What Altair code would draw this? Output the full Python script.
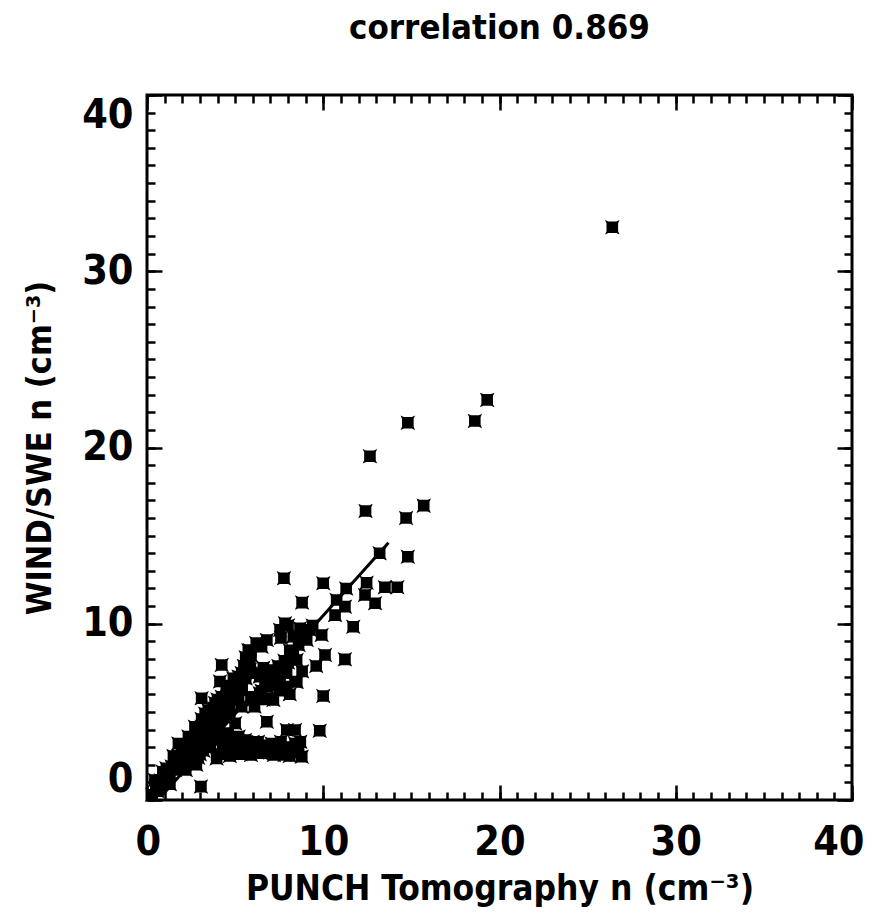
import altair as alt
import pandas as pd

# ---- data ----
punch_n = [
    26.4, 19.3, 14.8, 18.6, 12.65, 12.4, 15.7, 14.7, 14.8, 13.2,
    7.77, 10.0, 8.8, 11.3, 12.46, 13.5, 14.2, 12.37, 12.94, 10.76,
    11.23, 10.67, 11.7, 9.91, 9.25, 8.68, 7.83, 7.55, 6.8, 6.5,
    8.3, 9.06, 10.1, 9.6, 11.23, 10.0, 8.4, 7.92, 8.49, 8.1,
    5.84, 5.84, 5.84, 4.24, 6.9, 7.5, 6.98, 6.4, 7.55, 7.92,
    6.4, 6.8, 7.17, 6.0, 5.27, 4.9,
    9.8, 6.8, 7.93, 8.4, 8.78, 4.14, 3.1, 3.06, 6.98, 3.95,
    4.05, 4.8, 5.0, 5.56, 6.1, 6.5, 7.07, 7.45, 8.0, 8.4,
    7.8, 5.9, 6.8, 7.6, 5.3, 4.5, 8.2, 7.2, 6.3,
    0.45, 0.74, 1.02, 1.4, 1.78, 1.97, 2.35, 2.72, 3.1, 3.48,
    3.86, 4.24, 4.6, 5.0, 5.37, 5.75, 5.75,
    5.37, 5.9, 6.5, 6.7, 7.07, 7.45, 7.8, 8.2, 6.1, 5.0,
    4.6, 4.4, 3.67, 3.3, 2.72, 2.16, 1.6, 2.35, 2.5, 1.78,
    3.1, 3.67,
    1.2, 0.9, 1.5, 2.0, 2.6, 3.0, 3.4, 3.9, 4.2, 4.7,
    4.0, 3.2, 2.9, 3.6, 4.3, 3.8, 2.2, 1.3, 0.6,
    8.3, 8.5, 6.2, 5.6,
    0.3, 0.5, 0.8, 1.1, 1.3, 1.6, 1.9, 2.1, 2.4, 2.6,
    2.9, 3.2, 3.3, 3.5, 3.8, 4.0, 4.1, 4.4, 4.5, 4.8,
    4.9, 5.2, 5.4, 5.5, 5.6, 5.9, 5.2, 4.7, 3.5, 2.8, 3.0,
    6.2, 6.6, 7.0, 7.3, 7.8, 8.0, 8.6, 8.9, 7.6, 8.0, 9.4,
    6.6, 7.5, 8.1, 8.8,
    4.4, 4.7, 5.3, 5.7, 6.0, 6.6, 7.0, 7.3, 7.7, 8.1,
    8.6, 8.7, 5.2, 4.2,
]
wind_n = [
    32.5, 22.7, 21.4, 21.5, 19.5, 16.4, 16.7, 16.0, 13.8, 14.0,
    12.58, 12.3, 11.2, 12.0, 12.33, 12.07, 12.07, 11.63, 11.16, 11.35,
    10.97, 10.49, 9.83, 9.36, 9.65, 9.74, 10.03, 9.65, 9.08, 8.7,
    9.27, 9.08, 8.23, 7.6, 7.98, 5.9, 6.72, 7.2, 7.94, 8.5,
    8.5, 7.9, 7.4, 7.66, 7.3, 7.5, 7.38, 7.0, 6.8, 6.43,
    6.05, 6.43, 5.67, 5.67, 6.24, 5.67,
    3.93, 4.44, 3.97, 3.97, 2.46, 6.72, 5.77, 0.76, 5.77, 2.36,
    3.4, 3.2, 2.84, 3.4, 3.0, 2.65, 3.2, 2.84, 3.0, 3.2,
    2.55, 2.55, 2.9, 3.3, 3.1, 3.6, 2.7, 2.55, 3.3,
    1.13, 0.79, 1.51, 1.9, 2.5, 3.0, 3.6, 4.16, 4.6, 5.1,
    5.5, 5.86, 6.2, 6.6, 7.2, 7.9, 8.5,
    5.3, 5.86, 6.2, 6.8, 7.2, 7.6, 7.9, 8.3, 5.3, 4.35,
    3.8, 4.7, 4.16, 3.6, 3.0, 2.65, 2.08, 2.27, 3.0, 3.2,
    4.16, 4.9,
    1.3, 1.6, 2.5, 2.0, 3.5, 3.2, 4.4, 4.0, 5.0, 5.3,
    4.5, 2.8, 2.4, 3.0, 3.1, 3.6, 1.7, 0.9, 0.5,
    8.4, 6.7, 8.9, 6.9,
    0.3, 0.8, 1.1, 1.8, 1.5, 1.7, 2.3, 2.9, 2.6, 3.1,
    3.9, 3.6, 4.9, 4.5, 5.2, 5.7, 4.2, 5.4, 6.5, 6.0,
    6.9, 7.0, 6.3, 7.6, 8.1, 8.2, 5.8, 4.8, 3.3, 2.0, 2.6,
    7.2, 7.5, 6.5, 7.0, 7.2, 7.8, 8.8, 9.3, 9.2, 9.9, 9.9,
    5.7, 6.2, 6.0, 7.3,
    2.9, 2.5, 2.6, 2.9, 3.3, 3.1, 2.7, 3.0, 2.9, 2.5,
    2.9, 3.3, 3.6, 2.6,
]
fit_x = [0.85, 13.7]
fit_y = [0.25, 14.6]
major_ticks = [0, 10, 20, 30, 40]
minor_ticks = list(range(0, 41))

title_text = "correlation 0.869"
x_title = "PUNCH Tomography n (cm⁻³)"
y_title = "WIND/SWE n (cm⁻³)"

pts_df = pd.DataFrame({"x": punch_n, "y": wind_n})
fit_df = pd.DataFrame({"x": fit_x, "y": fit_y})

FONT = "DejaVu Sans Condensed, Liberation Sans, sans-serif"
XMARK = ("M-1,-1L-0.55,-0.8L0.55,-0.8L1,-1L0.8,-0.55L0.8,0.55L1,1"
         "L0.55,0.8L-0.55,0.8L-1,1L-0.8,0.55L-0.8,-0.55Z")

sx = alt.Scale(domain=[0, 40], nice=False, zero=False)
sy = alt.Scale(domain=[0, 40], nice=False, zero=False)

common = dict(domain=False, grid=False, tickColor="black", tickWidth=2.5,
              labelColor="black", titleColor="black")


def ax(orient, values, size, labels=False, title=None, **kw):
    return alt.Axis(orient=orient, values=values, tickSize=size, offset=-size,
                    labels=labels, title=title, **common, **kw)


lab = dict(labelFont=FONT, labelFontSize=41, labelFontWeight="bold",
           labelOverlap=False)

points = alt.Chart(pts_df).mark_point(
    shape=XMARK, filled=True, size=210, color="black", opacity=1
).encode(
    x=alt.X("x:Q", scale=sx, axis=ax("bottom", major_ticks, 15, labels=True,
            title=x_title, labelPadding=22, labelAngle=0, labelFlush=True,
            labelFlushOffset=12, titleFont=FONT, titleFontSize=35,
            titleFontWeight="bold", titlePadding=9, **lab)),
    y=alt.Y("y:Q", scale=sy, axis=ax("left", major_ticks, 15, labels=True,
            title=y_title, labelPadding=14, labelFlush=True, titleFont=FONT,
            titleFontSize=34, titleFontWeight="bold", titlePadding=24, **lab)),
)

fit = alt.Chart(fit_df).mark_line(color="black", strokeWidth=3).encode(
    x=alt.X("x:Q", scale=sx, axis=ax("bottom", minor_ticks, 8)),
    y=alt.Y("y:Q", scale=sy, axis=ax("left", minor_ticks, 8)),
)

top_right_major = alt.Chart(fit_df).mark_line(opacity=0).encode(
    x=alt.X("x:Q", scale=sx, axis=ax("top", major_ticks, 15)),
    y=alt.Y("y:Q", scale=sy, axis=ax("right", major_ticks, 15)),
)

top_right_minor = alt.Chart(fit_df).mark_line(opacity=0).encode(
    x=alt.X("x:Q", scale=sx, axis=ax("top", minor_ticks, 8)),
    y=alt.Y("y:Q", scale=sy, axis=ax("right", minor_ticks, 8)),
)

chart = alt.layer(points, fit, top_right_major, top_right_minor).resolve_axis(
    x="independent", y="independent"
).properties(
    width=705, height=705,
    title=alt.TitleParams(title_text, font=FONT, fontSize=34.5, fontWeight="bold",
                          color="black", anchor="middle", baseline="bottom",
                          frame="group", offset=13),
    padding={"left": 139, "top": 87, "right": 14, "bottom": 108},
    autosize=alt.AutoSizeParams(type="none"),
).configure_view(stroke="black", strokeWidth=3)

chart.save("out.html", embed_options={"renderer": "svg", "actions": False})
